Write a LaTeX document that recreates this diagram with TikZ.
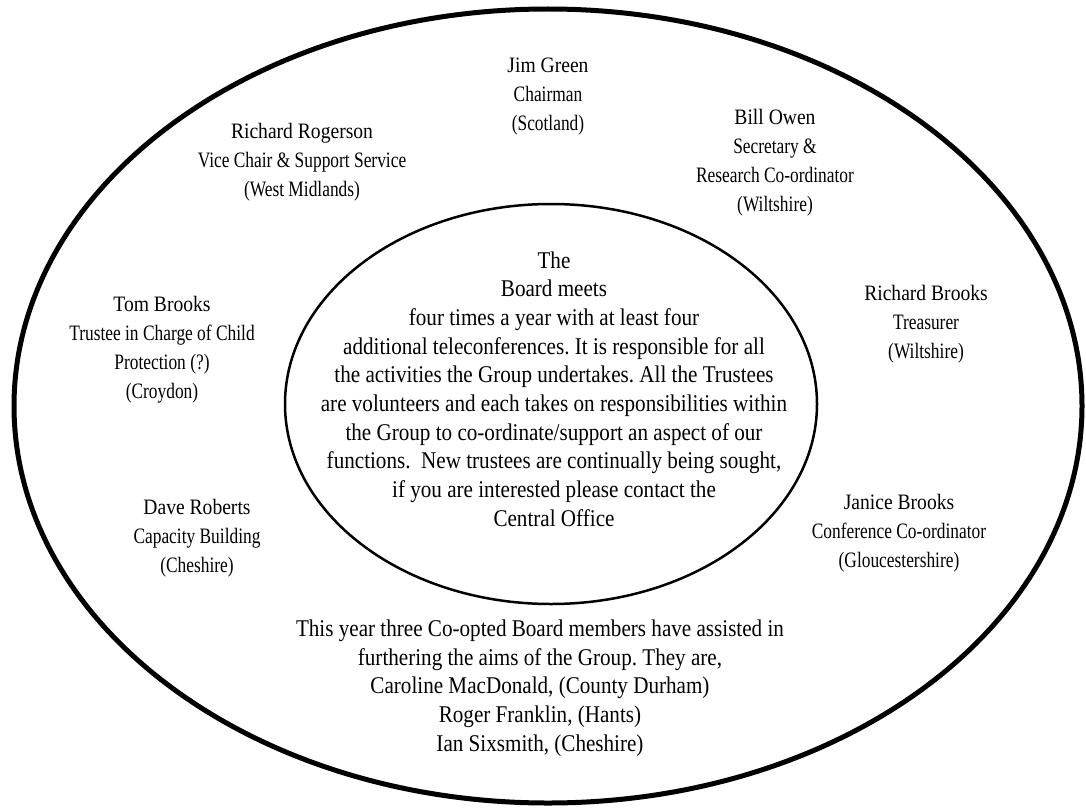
\documentclass[tikz,border=0pt]{standalone}
\usepackage{fontspec}
\setmainfont{Liberation Serif}
\newfontfamily\namefont[FakeStretch=0.89]{Liberation Serif}
\newfontfamily\descfont[FakeStretch=0.79]{Liberation Serif}
\newfontfamily\bodyfont[FakeStretch=0.88]{Liberation Serif}
\frenchspacing
\begin{document}
\begin{tikzpicture}[x=1pt,y=-1pt,
  person/.style={align=center,inner sep=0pt,font=\fontsize{22}{29}\selectfont\frenchspacing},
  body/.style={align=center,inner sep=0pt,font=\fontsize{24}{28.7}\selectfont\bodyfont\frenchspacing}]
\useasboundingbox (0,0) rectangle (1086,808);
\fill[white] (0,0) rectangle (1086,808);
\draw[line width=5pt] (548,406) ellipse [x radius=534pt, y radius=397pt];
\draw[line width=2.5pt] (551,404) ellipse [x radius=266pt, y radius=200pt];

\node[person] (jim) at (548,97) {{\namefont Jim Green}\\{\descfont Chairman}\\{\descfont (Scotland)}};
\node[person] (rr) at (302,162) {{\namefont Richard Rogerson}\\{\descfont Vice Chair \& Support Service}\\{\descfont (West Midlands)}};
\node[person] (bill) at (775,163) {{\namefont Bill Owen}\\{\descfont Secretary \&}\\{\descfont Research Co-ordinator}\\{\descfont (Wiltshire)}};
\node[person] (tom) at (162,350) {{\namefont Tom Brooks}\\{\descfont Trustee in Charge of Child}\\{\descfont Protection (?)}\\{\descfont (Croydon)}};
\node[person] (rb) at (926,324) {{\namefont Richard Brooks}\\{\descfont Treasurer}\\{\descfont (Wiltshire)}};
\node[person] (dave) at (197,538) {{\namefont Dave Roberts}\\{\descfont Capacity Building}\\{\descfont (Cheshire)}};
\node[person] (janice) at (899,533) {{\namefont Janice Brooks}\\{\descfont Conference Co-ordinator}\\{\descfont (Gloucestershire)}};

\node[body] (board) at (554,389) {The\\Board meets\\four times a year with at least four\\additional teleconferences. It is responsible for all\\the activities the Group undertakes. All the Trustees\\are volunteers and each takes on responsibilities within\\the Group to co-ordinate/support an aspect of our\\functions.\ \ New trustees are continually being sought,\\if you are interested please contact the\\Central Office};

\node[body] (coopt) at (540,688) {This year three Co-opted Board members have assisted in\\furthering the aims of the Group. They are,\\Caroline MacDonald, (County Durham)\\Roger Franklin, (Hants)\\Ian Sixsmith, (Cheshire)};
\end{tikzpicture}
\end{document}
